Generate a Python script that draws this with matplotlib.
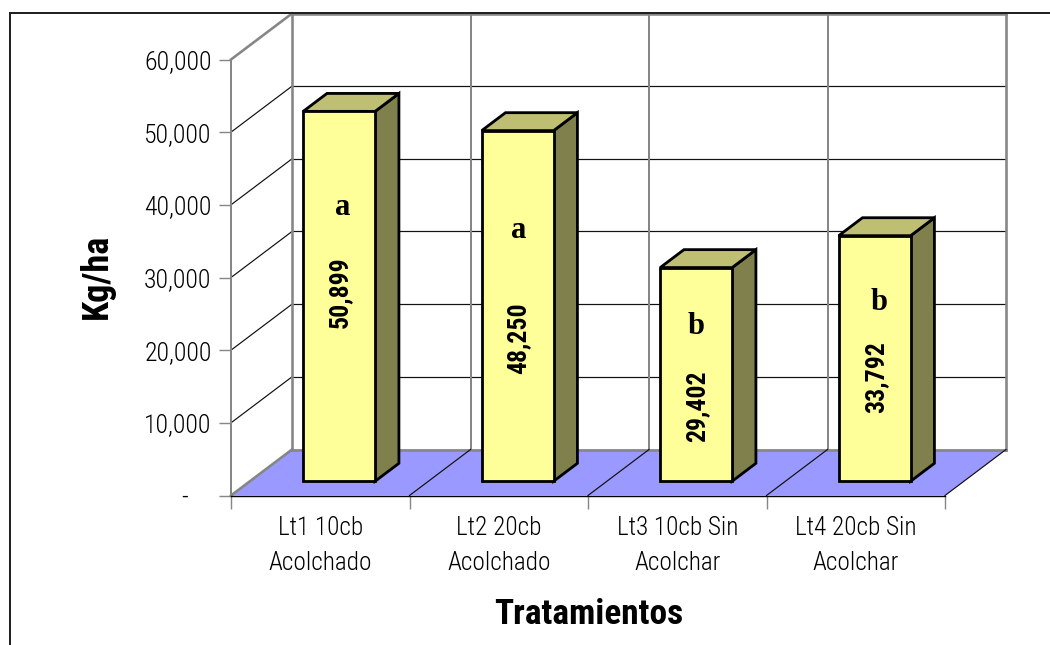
import matplotlib
matplotlib.use('Agg')
import matplotlib.pyplot as plt
from matplotlib.lines import Line2D
from matplotlib.patches import Polygon

# rendimiento por tratamiento
tratamientos = ['Lt1 10cb\nAcolchado', 'Lt2 20cb\nAcolchado', 'Lt3 10cb Sin\nAcolchar', 'Lt4 20cb Sin\nAcolchar']
rendimiento = [50899, 48250, 29402, 33792]
letras = ['a', 'a', 'b', 'b']
y_ticks = [0, 10000, 20000, 30000, 40000, 50000, 60000]
y_labels = ['-    ', '10,000', '20,000', '30,000', '40,000', '50,000', '60,000']

W, H = 1050, 645
plt.rcParams['font.family'] = ['Roboto Condensed', 'Liberation Sans']

fig = plt.figure(figsize=(W / 100, H / 100), dpi=100)
ax = fig.add_axes([231 / W, 1 - 495.5 / H, 714 / W, 436 / H])
ax.set_xlim(0, 4)
ax.set_ylim(0, 60000)
ax.patch.set_visible(False)

# fondo falso 3D: cuanto se desplaza la pared trasera
DX = 61 / 178.5
DY = 46 / 436 * 60000


def px(n):
    return n * 0.72


def p3(x, y, d):
    return (x + DX * d, y + DY * d)


def linea(a, b, color='#111111', lw=1.0, z=2):
    ax.add_line(Line2D([a[0], b[0]], [a[1], b[1]], color=color, lw=px(lw), zorder=z,
                       clip_on=False, solid_capstyle='projecting'))


def cara(pts, color, z):
    ax.add_patch(Polygon(pts, closed=True, facecolor=color, edgecolor='black', lw=px(2.8),
                         joinstyle='miter', zorder=z, clip_on=False))


GRIS = '#868686'

# piso
ax.add_patch(Polygon([p3(0, 0, 0), p3(4, 0, 0), p3(4, 0, 1), p3(0, 0, 1)], closed=True,
                     facecolor='#9999FF', edgecolor='none', zorder=1, clip_on=False))

# rejilla de paredes
for v in y_ticks[1:-1]:
    linea(p3(0, v, 0), p3(0, v, 1), lw=1.2)
    linea(p3(0, v, 1), p3(4, v, 1), lw=1.2)
for i in range(5):
    linea(p3(i, 0, 1), p3(i, 60000, 1), color=GRIS, lw=2.6 if i in (0, 4) else 2)
linea(p3(0, 0, 1), p3(4, 0, 1), color=GRIS, lw=2.6)
linea(p3(0, 60000, 1), p3(4, 60000, 1), color=GRIS, lw=2.6)
linea(p3(0, 60000, 0), p3(0, 60000, 1), color=GRIS, lw=2.6)
linea(p3(0, 0, 0), p3(0, 0, 1), color=GRIS, lw=2.6)
for i in range(1, 5):
    linea(p3(i, 0, 0), p3(i, 0, 1), lw=1.2)

# barras
ANCHO = 0.403
D0, D1 = 0.31, 0.70
for i, v in enumerate(rendimiento):
    x0 = i + 0.5 - ANCHO / 2
    x1 = x0 + ANCHO
    cara([p3(x1, 0, D0), p3(x1, 0, D1), p3(x1, v, D1), p3(x1, v, D0)], '#80804D', 5)
    cara([p3(x0, v, D0), p3(x1, v, D0), p3(x1, v, D1), p3(x0, v, D1)], '#BFBF73', 5)
    cara([p3(x0, 0, D0), p3(x1, 0, D0), p3(x1, v, D0), p3(x0, v, D0)], '#FFFF99', 6)

# etiquetas de cada barra
pos_valor = [(0.610, 27950), (1.609, 21700), (2.611, 12300), (3.613, 16300)]
pos_letra = [(0.625, 39600), (1.611, 36400), (2.605, 23300), (3.630, 26500)]
for v, (x, y) in zip(rendimiento, pos_valor):
    ax.text(x, y, f'{v:,}', rotation=90, ha='center', va='center', fontsize=18.5,
            fontweight='bold', color='black', zorder=8)
for t, (x, y) in zip(letras, pos_letra):
    ax.text(x, y, t, ha='center', va='center', fontsize=22, fontweight='bold',
            family='Liberation Serif', color='black', zorder=8)

# ejes
for s in ['top', 'right']:
    ax.spines[s].set_visible(False)
ax.spines['left'].set_color(GRIS)
ax.spines['left'].set_linewidth(px(2))
ax.spines['bottom'].set_color('black')
ax.spines['bottom'].set_linewidth(px(1.4))
ax.spines['bottom'].set_zorder(3)
ax.set_yticks(y_ticks)
ax.set_yticklabels(y_labels)
ax.tick_params(axis='y', length=9, width=px(1.4), color=GRIS, pad=5, labelsize=18.5, labelcolor='black')
ax.set_xticks(range(5))
ax.set_xticklabels([])
ax.tick_params(axis='x', length=9, width=px(1.4), color=GRIS)
ax.set_xticks([0.5, 1.5, 2.5, 3.5], minor=True)
ax.set_xticklabels(tratamientos, minor=True, fontsize=18.2, color='black', linespacing=1.55)
ax.tick_params(axis='x', which='minor', length=0, pad=15)
for lab in ax.get_yticklabels() + ax.get_xticklabels(minor=True):
    lab.set_fontweight(300)

fig.text(589 / W, 1 - 615 / H, 'Tratamientos', ha='center', va='center', fontsize=25.5, fontweight='bold')
fig.text(97 / W, 1 - 276 / H, 'Kg/ha', ha='center', va='center', rotation=90, fontsize=26, fontweight='bold')

# marco exterior, abierto a la derecha y abajo
fig.add_artist(Line2D([9.5 / W, 9.5 / W, 1], [0, 1 - 13 / H, 1 - 13 / H], color='#222222', lw=px(2),
                      transform=fig.transFigure, solid_joinstyle='miter'))

fig.savefig('out.png', dpi=100)
